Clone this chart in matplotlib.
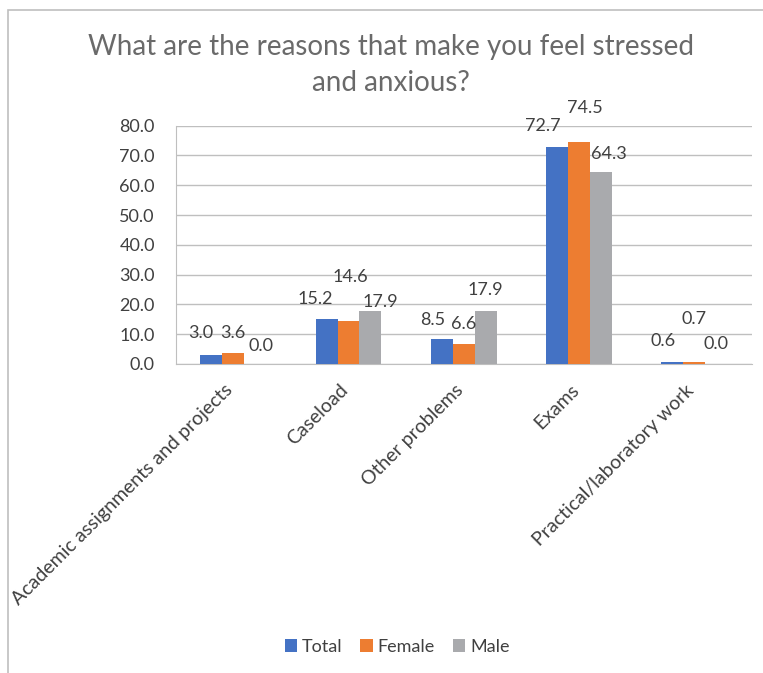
import numpy as np
import matplotlib
matplotlib.use("Agg")
import matplotlib.pyplot as plt
from matplotlib.patches import Rectangle
from matplotlib.transforms import ScaledTranslation

# Datos
categories = ['Academic assignments and projects', 'Caseload', 'Other problems',
              'Exams', 'Practical/laboratory work']
total = [3.0, 15.2, 8.5, 72.7, 0.6]
female = [3.6, 14.6, 6.6, 74.5, 0.7]
male = [0.0, 17.9, 17.9, 64.3, 0.0]

series_names = ['Total', 'Female', 'Male']
colors = ['#4472C4', '#ED7D31', '#A9AAAD']

# desplazamiento de las etiquetas (pixeles, dx, dy) respecto al extremo de cada barra
label_offsets = {
    'Total': [(-11, 22), (-11, 20), (-9, 19), (-14, 21), (-9, 21)],
    'Female': [(0, 20), (2, 44), (0, 20), (6, 34), (0, 43)],
    'Male': [(6, 18), (10, 9), (0, 21), (8, 18), (0, 20)],
}

plt.rcParams['font.family'] = ['Lato', 'DejaVu Sans']
text_color = '#6A6A6A'
label_color = '#404040'

fig = plt.figure(figsize=(7.63, 6.73), dpi=100)
px = 72 / fig.dpi

# marco del area del grafico
fig.patches.append(Rectangle((8 / 763, -0.1), 1.2, 1 - 10 / 673 + 0.1,
                             transform=fig.transFigure, fill=False,
                             edgecolor='#BFBFBF', linewidth=1.2))

ax = fig.add_axes([175.7 / 763, 1 - 364 / 673, 576 / 763, 238.3 / 673])

x = np.arange(len(categories))
width = 0.19
data = [total, female, male]

for i, (name, vals, col) in enumerate(zip(series_names, data, colors)):
    pos = x + (i - 1) * width
    ax.bar(pos, vals, width=width, color=col, label=name, zorder=3)
    for j, v in enumerate(vals):
        dx, dy = label_offsets[name][j]
        ax.annotate(f'{v:.1f}', xy=(pos[j], v), xytext=(dx * px, dy * px),
                    textcoords='offset points', ha='center', va='center',
                    fontsize=13, color=label_color, zorder=4)

ax.set_xlim(-0.5, len(categories) - 0.5)
ax.set_ylim(0, 80)
ax.set_yticks(np.arange(0, 81, 10))
ax.set_yticklabels([f'{t:.1f}' for t in np.arange(0, 81, 10)])
ax.yaxis.grid(True, color='#BFBFBF', linewidth=1.0, zorder=0)
ax.set_axisbelow(True)

for side in ['top', 'right']:
    ax.spines[side].set_visible(False)
ax.spines['left'].set_color('#BFBFBF')
ax.spines['bottom'].set_color('#BFBFBF')

ax.tick_params(axis='y', length=0, pad=15, labelsize=13, labelcolor=label_color)
ax.tick_params(axis='x', length=0, pad=4, labelsize=14, labelcolor=label_color)
ax.set_xticks(x)
ax.set_xticklabels(categories, rotation=45, ha='right', rotation_mode='anchor')
for lab in ax.get_xticklabels():
    lab.set_transform(lab.get_transform() + ScaledTranslation(-9 / 100, -12 / 100, fig.dpi_scale_trans))

fig.text(391 / 763, 1 - 47 / 673, 'What are the reasons that make you feel stressed',
         ha='center', va='center', fontsize=20, color=text_color)
fig.text(391 / 763, 1 - 83 / 673, 'and anxious?',
         ha='center', va='center', fontsize=20, color=text_color)

fig.legend(loc='center', bbox_to_anchor=(397 / 763, 1 - 647 / 673), ncol=3,
           frameon=False, fontsize=13, handlelength=0.7, handleheight=0.7,
           handletextpad=0.25, columnspacing=1.0, labelcolor=label_color)

fig.savefig('out.png', dpi=100)
